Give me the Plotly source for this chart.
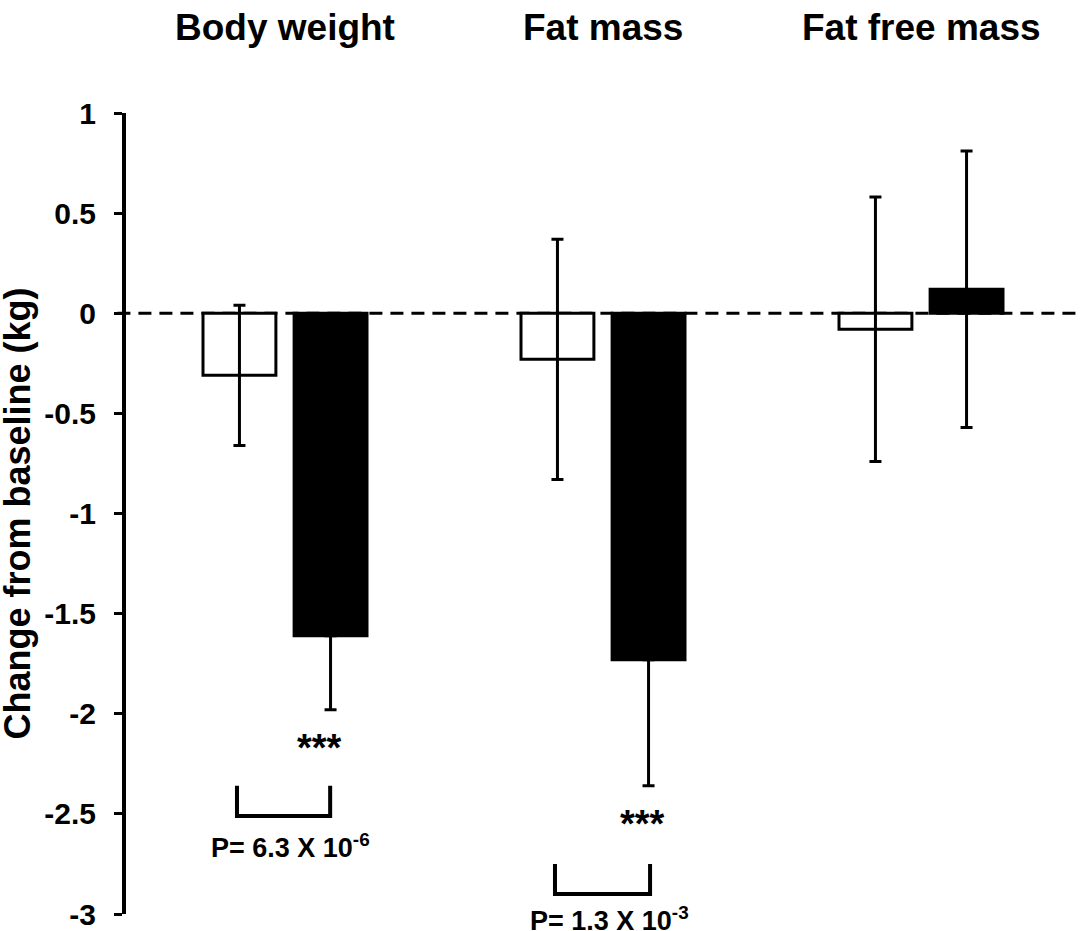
import plotly.graph_objects as go

# ---- data ----
categories = ["Body weight", "Fat mass", "Fat free mass"]
control_mean = [-0.31, -0.23, -0.08]
control_err = [0.35, 0.60, 0.66]
treat_mean = [-1.61, -1.73, 0.12]
treat_err_plus = [0.0, 0.0, 0.69]
treat_err_minus = [0.37, 0.63, 0.69]

y_tick_vals = [1, 0.5, 0, -0.5, -1, -1.5, -2, -2.5, -3]
y_tick_text = ["1", "0.5", "0", "-0.5", "-1", "-1.5", "-2", "-2.5", "-3"]

sig_text = ["***", "***"]
sig_x = [0.11, 1.123]
sig_y = [-2.17, -2.55]

p_text = ["P= 6.3 X 10<sup>-6</sup>", "P= 1.3 X 10<sup>-3</sup>"]
p_x = [0.016, 1.02]
p_y = [-2.565, -2.93]

bracket_x0 = [-0.151, 0.849]
bracket_x1 = [0.142, 1.148]
bracket_top = [-2.36, -2.75]
bracket_bottom = [-2.51, -2.90]

FONT = "Liberation Sans, Arial, sans-serif"
x_pos = list(range(len(categories)))

fig = go.Figure()
fig.add_trace(go.Bar(
    x=x_pos, y=control_mean, name="Control",
    marker=dict(color="white", line=dict(color="black", width=3)),
    error_y=dict(type="data", array=control_err, symmetric=True,
                 color="black", thickness=3, width=6),
))
fig.add_trace(go.Bar(
    x=x_pos, y=treat_mean, name="Treatment",
    marker=dict(color="black", line=dict(color="black", width=3)),
    error_y=dict(type="data", array=treat_err_plus, arrayminus=treat_err_minus,
                 symmetric=False, color="black", thickness=3, width=6),
))

fig.update_layout(
    width=1080, height=931,
    margin=dict(l=126, r=0, t=113, b=15),
    plot_bgcolor="white", paper_bgcolor="white",
    barmode="group", bargap=0.427, bargroupgap=0.2,
    showlegend=False,
    font=dict(family=FONT, color="black"),
    xaxis=dict(range=[-0.5, 2.5], visible=False, fixedrange=True),
    yaxis=dict(
        range=[-3, 1], tickvals=y_tick_vals, ticktext=y_tick_text,
        showgrid=False, zeroline=False, showline=True, linecolor="black",
        linewidth=4, ticks="outside", ticklen=8, tickwidth=3, tickcolor="black",
        tickfont=dict(family=FONT, size=30, color="black", weight="bold"),
        ticklabelstandoff=12, ticklabeloverflow="allow",
    ),
)

# zero dashed line
fig.add_shape(type="line", xref="paper", yref="y", x0=-0.009, x1=1, y0=0, y1=0,
              line=dict(color="black", width=3, dash="13px,8px"), layer="below")

# group titles
for i, c in enumerate(categories):
    fig.add_annotation(x=i, y=1 + (113 - 27) / 803, xref="x", yref="paper",
                       text=c, showarrow=False, xanchor="center", yanchor="middle",
                       font=dict(family=FONT, size=37, color="black", weight="bold"))

# y axis title
fig.add_annotation(x=(17 - 126) / 954, y=0.5, xref="paper", yref="paper",
                   text="Change from baseline (kg)", textangle=-90, showarrow=False,
                   xanchor="center", yanchor="middle",
                   font=dict(family=FONT, size=36, color="black", weight="bold"))

# significance marks
for t, x, y in zip(sig_text, sig_x, sig_y):
    fig.add_annotation(x=x, y=y, xref="x", yref="y", text=t, showarrow=False,
                       xanchor="center", yanchor="middle",
                       font=dict(family=FONT, size=38, color="black", weight="bold"))

# p-values
for t, x, y in zip(p_text, p_x, p_y):
    fig.add_annotation(x=x, y=y, xref="x", yref="y", text=t, showarrow=False,
                       xanchor="center", yanchor="top",
                       font=dict(family=FONT, size=27, color="black", weight="bold"))

# brackets
for x0, x1, yt, yb in zip(bracket_x0, bracket_x1, bracket_top, bracket_bottom):
    path = f"M {x0},{yt} L {x0},{yb} L {x1},{yb} L {x1},{yt}"
    fig.add_shape(type="path", xref="x", yref="y", path=path,
                  line=dict(color="black", width=4))

fig.write_html("out.html", config={"displayModeBar": False},
               post_script="document.body.style.margin='0';document.body.style.overflow='hidden';")
